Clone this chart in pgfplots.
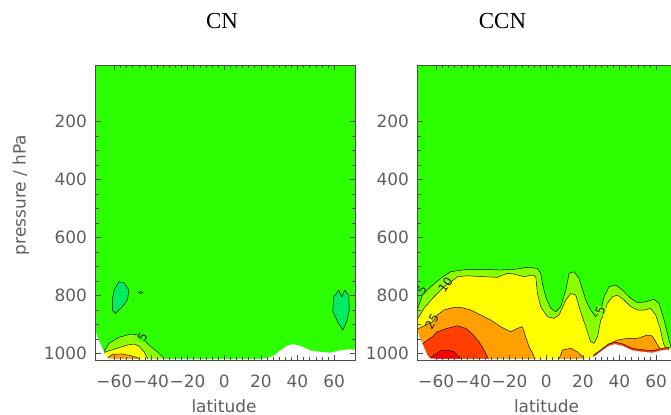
\documentclass[border=0pt]{standalone}
\usepackage{pgfplots}
\pgfplotsset{compat=1.18}
\usepackage{fontspec}
\setmainfont{DejaVu Sans}
\newfontfamily\titlefont{Liberation Serif}

\definecolor{bggreen}{RGB}{43,255,0}
\definecolor{lgreen}{RGB}{140,255,0}
\definecolor{yel}{RGB}{255,255,0}
\definecolor{orng}{RGB}{255,160,0}
\definecolor{redor}{RGB}{255,62,0}
\definecolor{redd}{RGB}{255,0,0}
\definecolor{mint}{RGB}{0,235,100}
\definecolor{txt}{RGB}{95,95,95}

\pgfplotsset{
  latpanel/.style={
    scale only axis, width=260bp, height=295bp,
    xmin=-70.3, xmax=71.7, ymin=4, ymax=1023, y dir=reverse,
    axis on top,
    axis background/.style={fill=bggreen},
    xtick={-60,-40,-20,0,20,40,60},
    xticklabels={−60,−40,−20,0,20,40,60},
    minor x tick num=5,
    ytick={200,400,600,800,1000},
    yticklabels={200,400,600,800,1000},
    minor y tick num=3,
    tick align=inside,
    major tick length=5bp, minor tick length=3bp,
    tick style={black!70, line width=0.5pt},
    axis line style={black!70, line width=0.6pt},
    tick label style={font=\fontsize{17}{20}\selectfont, text=txt},
    xticklabel style={yshift=-11.5bp},
    yticklabel style={xshift=-5bp},
  },
  band/.style={draw=black, line width=0.45pt, fill=#1},
  ground/.style={fill=white, draw=none},
}
\tikzset{clabel/.style={font=\fontsize{12}{14}\selectfont, text=black!85, inner sep=0.3pt}}

\begin{document}
\begin{tikzpicture}
\useasboundingbox (0,0) rectangle (671bp,415bp);

% ---------------- CN ----------------
\begin{axis}[latpanel, at={(95.5bp,55bp)}, anchor=south west]
  % 5 contour
  \addplot[band=lgreen] coordinates {
    (-67,1040) (-66.5,1000) (-65.7,994.5) (-63.0,965.5) (-57.5,944.7)
    (-51.1,933.4) (-47.1,936.8) (-44.7,948.2) (-41.1,971.3) (-36.5,994.5)
    (-32.9,1017) (-32.5,1040)} -- cycle;
  % 10 contour
  \addplot[band=yel] coordinates {
    (-66,1040) (-65.5,1000) (-64.8,994.5) (-60.2,986.2) (-52.9,971.3)
    (-49.3,967.9) (-46.6,974.8) (-43.8,994.5) (-42.0,1017) (-41.8,1040)} -- cycle;
  % 25 contour
  \addplot[band=orng] coordinates {
    (-64,1040) (-63.5,1015) (-61,1003) (-56,1002) (-51,1008) (-47,1016)
    (-45.5,1040)} -- cycle;
  % negative cells
  \addplot[band=mint] coordinates {
    (-60.2,781) (-57.5,752.7) (-54.8,756.1) (-52.0,781.4) (-52.9,815.9)
    (-55.6,839) (-59.3,861.8) (-61.1,850.4) (-61.1,815.9)} -- cycle;
  \addplot[band=mint] coordinates {
    (59.8,805.5) (62.6,781.4) (64.2,805.5) (65.8,781.4) (68.0,798.6)
    (68.3,850.4) (67.2,885) (64.8,919.5) (62.0,891.9) (59.3,853.9)} -- cycle;
  \addplot[band=bggreen] coordinates {
    (-46.8,790) (-45.6,786.5) (-44.4,790) (-45.6,793.5)} -- cycle;
  % surface
  \addplot[ground] coordinates {
    (-76,880) (-71,905) (-69.5,940) (-67,975) (-65,1005) (-63.5,1017)
    (-60,1019) (20,1019) (24,1016) (27,1008) (30,993) (34,975) (37.5,968)
    (42,975) (47,990) (53,995) (58,998) (63,990) (68,986) (73,988)
    (76,988) (76,1040) (-76,1040)} -- cycle;
  \node[clabel, fill=bggreen, rotate=60] at (axis cs:-44.6,944) {5};
\end{axis}

% ---------------- CCN ----------------
\begin{axis}[latpanel, at={(417.5bp,55bp)}, anchor=south west]
  % 5 contour
  \addplot[band=lgreen] coordinates {
    (-76,844.6) (-70.05,844.6) (-67.65,798.6) (-63.1,770) (-57.65,741)
    (-52.2,718.1) (-43.1,709.8) (-34.0,709.8) (-24.9,712.3) (-17.6,709.8)
    (-10.3,702.9) (-4.8,706.4) (-3.0,723.7) (-2.1,758.2) (-0.3,804.5)
    (2.5,844.6) (5.2,856.3) (7.9,839) (10.7,781.4) (12.5,723.7)
    (15.2,718.1) (17.9,740.9) (21.6,815.9) (24.3,850.4) (27.0,873.6)
    (29.8,850.4) (31.6,804.5) (34.3,770) (38.0,764) (41.6,781.4)
    (46.2,810) (49.8,825.2) (54.4,821.8) (58.9,813.5) (61.6,827.3)
    (64.4,885) (67.1,954) (68.6,988.6) (71.3,1009) (76,1040) (-76,1040)} -- cycle;
  % 10 contour
  \addplot[band=yel] coordinates {
    (-76,879.1) (-70.05,879.1) (-66.8,844.6) (-61.3,804.5) (-55.8,770)
    (-51.3,749.2) (-48.5,735.4) (-43.1,732) (-34.0,735.4) (-26.7,737.5)
    (-21.2,723.7) (-17.6,726.1) (-12.1,735.4) (-7.5,729.5) (-5.7,735.4)
    (-4.8,792.7) (-3.0,839) (0.7,873.6) (4.3,879.1) (7.0,867.7)
    (10.7,815.9) (13.4,792.7) (16.1,798.6) (18.5,850.4) (21.6,908.1)
    (24.3,959.9) (26.1,965.4) (28.0,942.7) (29.8,885) (31.6,861.8)
    (33.4,827.3) (36.2,804.5) (38.9,798.6) (42.5,815.9) (46.2,839)
    (49.8,850.4) (53.4,850.4) (57.1,844.6) (59.8,867.7) (62.2,913.6)
    (64.0,965.4) (65.3,982.7) (66.9,995.5) (67.5,1040) (-76,1040)} -- cycle;
  % 25 contour
  \addplot[band=orng] coordinates {
    (-76,913.6) (-69.5,913.6) (-65.8,902.2) (-62.2,890.8) (-59.5,867.7)
    (-55.8,850.4) (-51.3,842.5) (-46.7,841.1) (-41.3,850.4) (-35.8,867.7)
    (-30.3,885) (-24.9,908.1) (-19.4,925.4) (-15.7,913.6) (-13.0,908.1)
    (-11.2,942.7) (-9.4,977.2) (-7.5,1000) (-5.7,1023) (-5.6,1040)
    (-76,1040)} -- cycle;
  \addplot[band=orng] coordinates {
    (6.6,1040) (6.8,1023) (8.9,988.6) (13.4,982.7) (17.0,994.5)
    (20.7,1017) (21,1040)} -- cycle;
  \addplot[band=orng] coordinates {
    (24,1040) (26.1,1011.7) (29.8,988.6) (33.4,971.3) (38.9,954)
    (44.4,948.2) (49.8,948.2) (55.3,936.8) (58.0,940.2) (59.8,959.9)
    (61.6,979.3) (63.5,988.6) (66,1000) (66,1040)} -- cycle;
  % 50 contour
  \addplot[band=redor] coordinates {
    (-70,1040) (-68.5,975) (-66.4,961) (-62.2,942.7) (-59.5,925.4)
    (-54.0,913.6) (-48.5,904.7) (-44.0,913.6) (-40.3,933.3) (-36.7,960)
    (-34.0,988.6) (-32.1,1011.7) (-31.3,1023) (-31.2,1040)} -- cycle;
  \addplot[band=redor] coordinates {
    (25,1040) (26,1005) (30,988) (34,968) (37.5,961) (42,968) (47,983)
    (53,988) (58,991) (63,983) (67,979) (67,1040)} -- cycle;
  % 100 contour
  \addplot[band=redd] coordinates {
    (-63.3,1040) (-63.1,1016) (-61.3,1006) (-57.7,991) (-54.0,988.6)
    (-50.4,994.5) (-47.7,1011.7) (-46.7,1023) (-46.6,1040)} -- cycle;
  % surface
  \addplot[ground] coordinates {
    (-76,880) (-71,905) (-69.5,940) (-67,975) (-65,1005) (-63.5,1017)
    (-60,1019) (20,1019) (24,1016) (27,1008) (30,993) (34,975) (37.5,968)
    (42,975) (47,990) (53,995) (58,998) (63,990) (68,986) (73,988)
    (76,988) (76,1040) (-76,1040)} -- cycle;
  \node[clabel, rotate=60] at (axis cs:-68,782) {5};
  \node[clabel, rotate=55] at (axis cs:-55,764) {10};
  \node[clabel, rotate=60] at (axis cs:-62.5,890) {25};
  \node[clabel, fill=lgreen, rotate=70] at (axis cs:29.6,852) {5};
\end{axis}

% titles and axis names
\node[font=\titlefont\fontsize{23}{26}\selectfont] at (222bp,394bp) {CN};
\node[font=\titlefont\fontsize{23}{26}\selectfont] at (502.5bp,394bp) {CCN};
\node[font=\fontsize{17}{20}\selectfont, text=txt, rotate=90] at (21bp,220bp) {pressure / hPa};
\node[font=\fontsize{17}{20}\selectfont, text=txt] at (224bp,9bp) {latitude};
\node[font=\fontsize{17}{20}\selectfont, text=txt] at (546.5bp,9bp) {latitude};
\end{tikzpicture}
\end{document}
